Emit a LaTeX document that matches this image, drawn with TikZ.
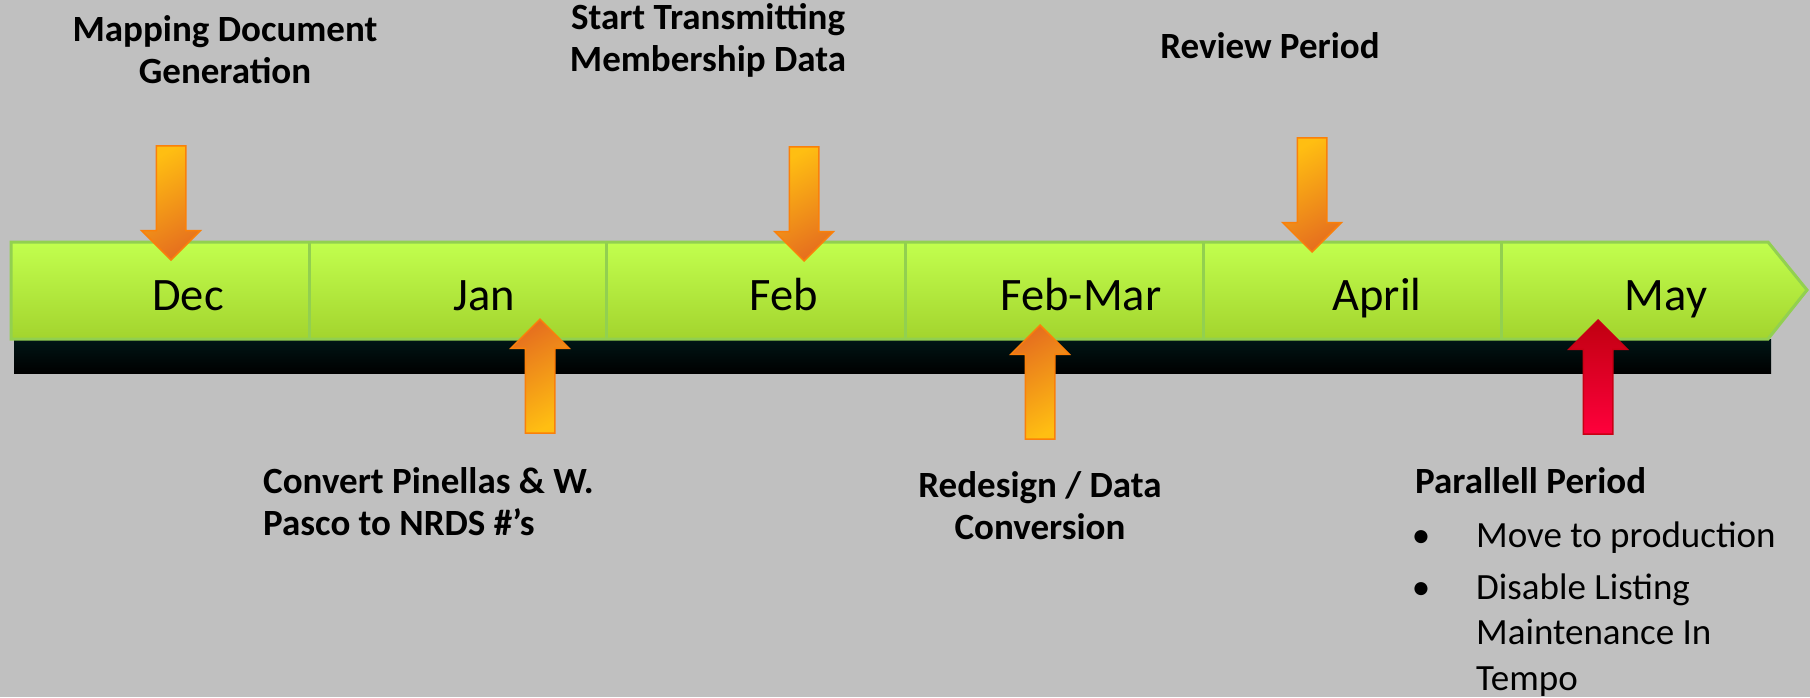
\documentclass[tikz,border=0pt]{standalone}
\usepackage{fontspec}
\setmainfont{Carlito}
\usepackage{tikz}
\usetikzlibrary{shapes.arrows,positioning}

\definecolor{slidegray}{RGB}{192,192,192}
\definecolor{bartop}{RGB}{194,255,78}
\definecolor{barbottom}{RGB}{163,212,46}
\definecolor{barline}{RGB}{146,208,80}
\definecolor{bandtop}{RGB}{0,22,22}
\definecolor{arrowlight}{RGB}{255,190,18}
\definecolor{arrowdark}{RGB}{230,112,30}
\definecolor{arrowline}{RGB}{250,128,10}
\definecolor{redlight}{RGB}{255,0,60}
\definecolor{reddark}{RGB}{192,0,16}
\definecolor{redline}{RGB}{200,0,20}

\begin{document}
\begin{tikzpicture}[x=1pt,y=-1pt,
    month/.style={font=\fontsize{46.5}{50}\selectfont,anchor=base,inner sep=0pt},
    event/.style={font=\fontsize{37}{42}\selectfont\bfseries,align=center,anchor=base,inner sep=0pt},
    entry/.style={font=\fontsize{37}{45.5}\selectfont,align=left,anchor=base west,inner sep=0pt},
    marker/.style={single arrow,draw=arrowline,line width=1.5pt,inner xsep=0pt,inner ysep=14pt,
      minimum height=114pt,single arrow head extend=14.5pt,anchor=tip},
    downmarker/.style={marker,rotate=-90,top color=arrowlight,bottom color=arrowdark,shading angle=30},
    upmarker/.style={marker,rotate=90,top color=arrowdark,bottom color=arrowlight,shading angle=30},
    redmarker/.style={marker,rotate=90,draw=redline,top color=reddark,bottom color=redlight}]
  \fill[slidegray] (0,0) rectangle (1810,697);
  \useasboundingbox (0,0) rectangle (1810,697);
  \fill[top color=bandtop,bottom color=black] (14,339) rectangle (1771,373);
  \draw[barline,line width=3pt,top color=bartop,bottom color=barbottom]
    (11,242) -- (1768,242) -- (1807,290) -- (1768,339) -- (11,339) -- cycle;
  \foreach \x in {309,606,905,1203,1501}
    \draw[barline,line width=3pt] (\x,243) -- (\x,338);
  \foreach \x/\m/\name in {188/Dec/dec,484/Jan/jan,784/Feb/feb,1081/Feb-Mar/febmar,1377/April/april,1666/May/may}
    \node[month] (\name) at (\x,310) {\m};
  \node[downmarker] (mapping) at (171,261) {};
  \node[downmarker] (transmit) at (804,262) {};
  \node[downmarker] (review) at (1312,253) {};
  \node[upmarker] (convert) at (540,318) {};
  \node[upmarker] (redesign) at (1040,324) {};
  \node[redmarker] (parallel) at (1598,319) {};
  \node[event] (mappingtext) at (225,83) {Mapping Document\\Generation};
  \node[event] (transmittext) at (708,71) {Start Transmitting\\Membership Data};
  \node[event] (reviewtext) at (1270,58) {Review Period};
  \node[event,align=left,anchor=base west] (converttext) at (263,535) {Convert Pinellas \& W.\\Pasco to NRDS \#’s};
  \node[event] (redesigntext) at (1040,539) {Redesign / Data\\Conversion};
  \node[event,anchor=base west] (paralleltext) at (1415,493) {Parallell Period};
  \node[entry] (move) at (1476,547) {Move to production};
  \node[entry] (disable) at (1476,690) {Disable Listing\\Maintenance In\\Tempo};
  \node[entry,anchor=base] (movedot) at (1421,547) {\textbullet};
  \node[entry,anchor=base] (disabledot) at (1421,599) {\textbullet};
\end{tikzpicture}
\end{document}
